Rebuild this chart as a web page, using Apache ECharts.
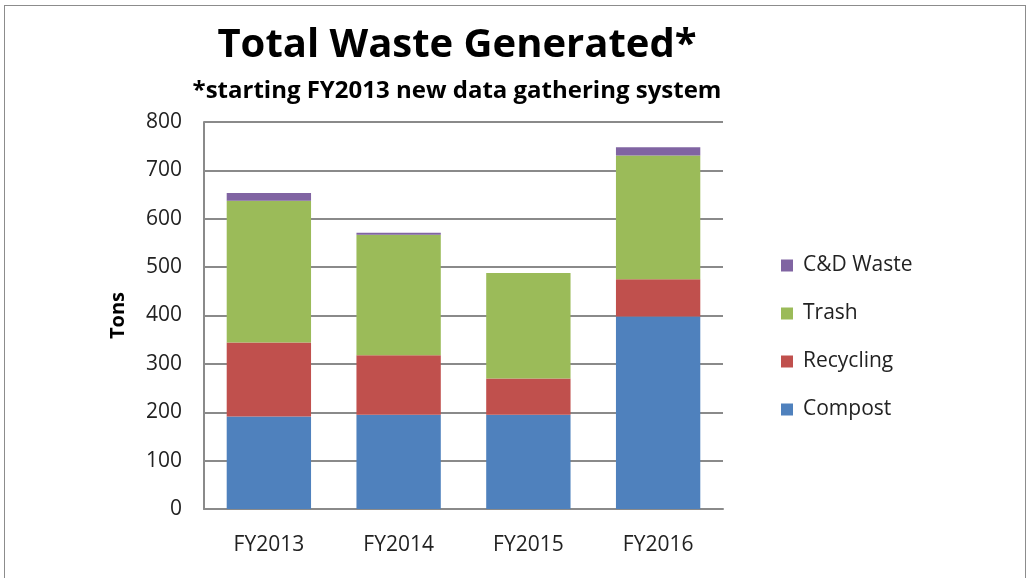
<!DOCTYPE html>
<html>
<head>
<meta charset="utf-8">
<script src="https://cdn.jsdelivr.net/npm/echarts@6/dist/echarts.min.js"></script>
<style>
  html, body { margin: 0; padding: 0; background: #fff; }
  #frame { position: absolute; left: 4px; top: 5px; width: 1022px; height: 580px; border: 1px solid #8c8c8c; box-sizing: border-box; }
  #chart { position: absolute; left: 0; top: 0; width: 1031px; height: 578px; }
</style>
</head>
<body>
<div id="frame"></div>
<div id="chart"></div>
<script>
const categories = ['FY2013', 'FY2014', 'FY2015', 'FY2016'];
const compost = [191, 195, 195, 398];
const recycling = [153, 123, 75, 77];
const trash = [293, 249, 218, 256];
const cdWaste = [16, 4, 0, 17];

const fontFamily = '"Open Sans", "Liberation Sans", sans-serif';

const chart = echarts.init(document.getElementById('chart'));

function barSeries(name, data, color) {
  return {
    name: name,
    type: 'bar',
    stack: 'total',
    barWidth: '65%',
    data: data,
    itemStyle: { color: color },
    emphasis: { disabled: true }
  };
}

const option = {
  animation: false,
  textStyle: { fontFamily: fontFamily },
  title: {
    text: 'Total Waste Generated*',
    subtext: '*starting FY2013 new data gathering system',
    left: 452,
    textAlign: 'center',
    top: 21,
    itemGap: 13,
    textStyle: { fontSize: 40, fontWeight: 'bold', color: '#000', fontFamily: fontFamily },
    subtextStyle: { fontSize: 24, fontWeight: 'bold', color: '#000', fontFamily: fontFamily }
  },
  legend: {
    orient: 'vertical',
    left: 776,
    top: 250,
    itemGap: 27,
    itemWidth: 12,
    itemHeight: 12,
    icon: 'rect',
    data: ['C&D Waste', 'Trash', 'Recycling', 'Compost'],
    textStyle: { fontSize: 21, color: '#222', fontFamily: fontFamily, padding: [0, 0, 0, 5] }
  },
  grid: {
    left: 204,
    right: 1031 - 723,
    top: 122,
    bottom: 578 - 509,
    containLabel: false
  },
  xAxis: {
    type: 'category',
    data: categories,
    axisLine: { lineStyle: { color: '#8a8a8a', width: 2 } },
    axisTick: { show: false },
    axisLabel: { fontSize: 21, color: '#222', margin: 26 }
  },
  yAxis: {
    type: 'value',
    min: 0,
    max: 800,
    interval: 100,
    name: 'Tons',
    nameLocation: 'middle',
    nameGap: 76,
    nameTextStyle: { fontSize: 20, fontWeight: 'bold', color: '#000' },
    axisLine: { show: true, lineStyle: { color: '#8a8a8a', width: 2 } },
    axisTick: { show: false },
    splitLine: { lineStyle: { color: '#8a8a8a', width: 2 } },
    axisLabel: { fontSize: 21, color: '#222', margin: 22 }
  },
  series: [
    barSeries('Compost', compost, '#4F81BD'),
    barSeries('Recycling', recycling, '#C0504D'),
    barSeries('Trash', trash, '#9BBB59'),
    barSeries('C&D Waste', cdWaste, '#8064A2')
  ]
};

chart.setOption(option);
</script>
</body>
</html>
